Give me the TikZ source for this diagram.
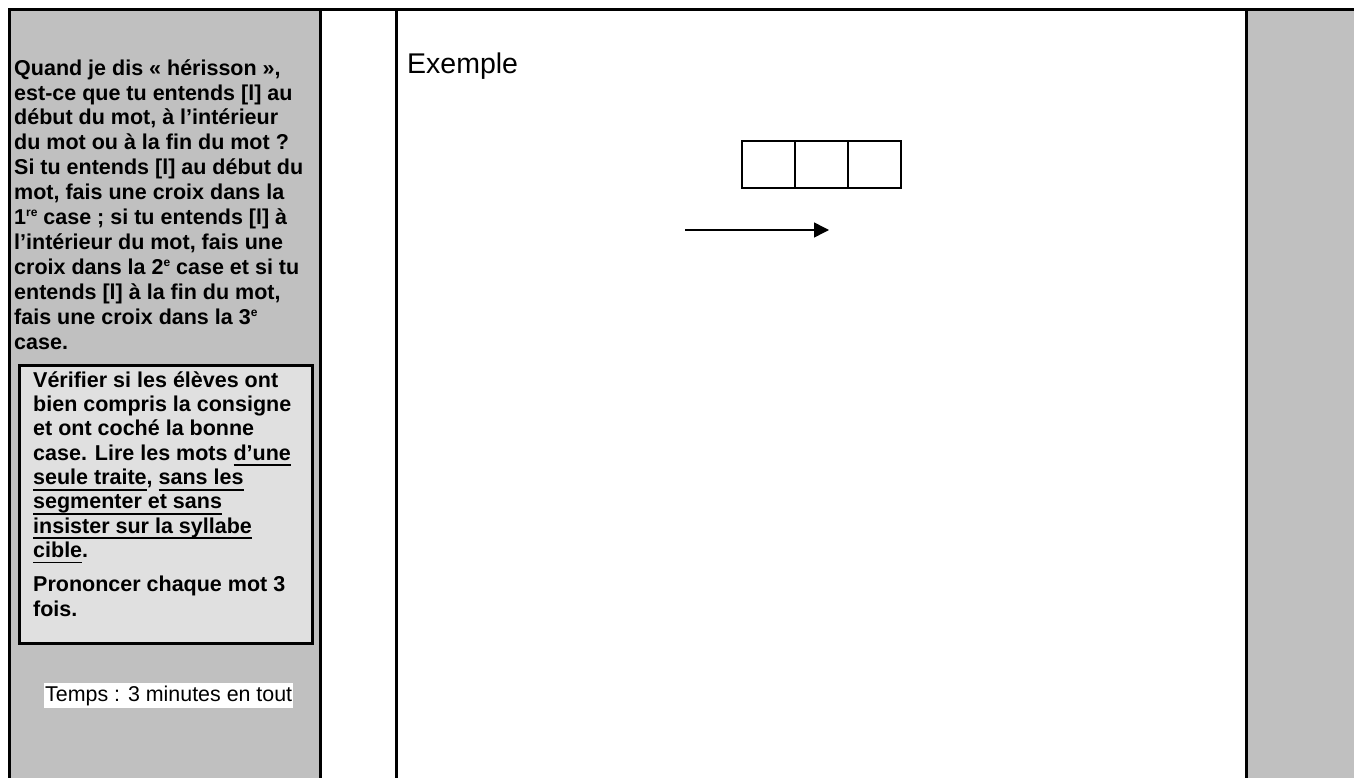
\documentclass[tikz,border=0pt]{standalone}
\usepackage{fontspec}
\setmainfont{Liberation Sans}
\usetikzlibrary{positioning,arrows.meta}

\definecolor{colGray}{HTML}{C0C0C0}
\definecolor{boxGray}{HTML}{E0E0E0}
\newcommand{\expo}[1]{\raisebox{8pt}{\fontsize{12}{12}\selectfont #1}}
\newsavebox{\soulbox}
\newcommand{\souligne}[1]{\sbox{\soulbox}{#1}\rlap{\rule[-6pt]{\wd\soulbox}{1.8pt}}\usebox{\soulbox}}

\begin{document}
\begin{tikzpicture}
        [x=1pt, y=-1pt,
        frameLine/.style={line width=3pt},
        instr/.style={align=left, inner sep=0pt, font=\bfseries\fontsize{21.5}{24.9}\selectfont},
        cell/.style={draw, line width=2pt, minimum width=53pt, minimum height=47pt, inner sep=0pt, outer sep=0pt}]
        \useasboundingbox (0,0) rectangle (1354,778);
        \fill[colGray] (9,10) rectangle (320,778);
        \fill[colGray] (1246,10) rectangle (1354,778);

        % base of a multi-line node = baseline of its last line
        \node[instr, anchor=base west] (consigne) at (14,349) {Quand je dis «~hérisson~»,\\
est-ce que tu entends [l] au\\
début du mot, à l’intérieur\\
du mot ou à la fin du mot ?\\
Si tu entends [l] au début du\\
mot, fais une croix dans la\\
1\expo{re} case ; si tu entends [l] à\\
l’intérieur du mot, fais une\\
croix dans la 2\expo{e} case et si tu\\
entends [l] à la fin du mot,\\
fais une croix dans la 3\expo{e}\\
case.};

        \node[draw, line width=3pt, fill=boxGray, anchor=north west, inner sep=0pt,
              minimum width=293pt, minimum height=278pt] (check) at (18,364) {};
        \node[instr, anchor=base west, font=\bfseries\fontsize{21.5}{24.3}\selectfont] (checkTxt) at (33,616) {Vérifier si les élèves ont\\
bien compris la consigne\\
et ont coché la bonne\\
case. Lire les mots \souligne{d’une}\\
\souligne{seule traite}, \souligne{sans les}\\
\souligne{segmenter et sans}\\
\souligne{insister sur la syllabe}\\
\souligne{cible}.\\[10pt]
Prononcer chaque mot 3\\
fois.};

        \node[fill=white, inner xsep=1pt, inner ysep=0pt, minimum height=25pt, anchor=west,
              font=\fontsize{21.4}{24}\selectfont] (temps) at (44,695.5) {Temps : 3 minutes en tout};

        \node[anchor=base west, inner sep=0pt, font=\fontsize{28.5}{32}\selectfont] (exemple) at (407,74) {Exemple};

        \node[cell] (c1) at (768.5,164.5) {};
        \node[cell, right=0pt of c1] (c2) {};
        \node[cell, right=0pt of c2] (c3) {};

        \coordinate (arrStart) at (685,230);
        \coordinate (arrEnd) at (829,230);
        \draw[line width=1.5pt, -{Triangle[length=15pt, width=15pt]}] (arrStart) -- (arrEnd);

        \draw[frameLine] (9,778) -- (9,10) -- (1354,10);
        \foreach \xl in {320,396,1246}
            \draw[frameLine] (\xl,10) -- (\xl,778);
    \end{tikzpicture}
\end{document}
